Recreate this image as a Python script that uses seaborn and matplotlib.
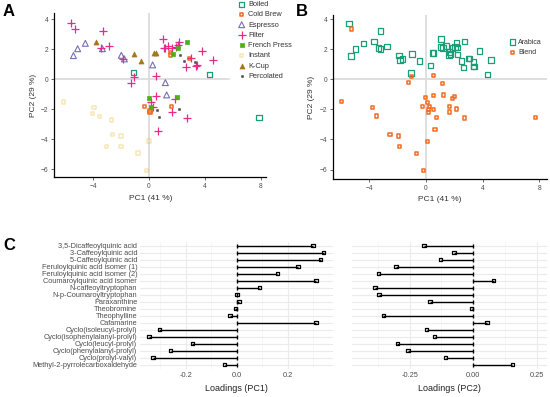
import numpy as np
import pandas as pd
import seaborn as sns
import matplotlib.pyplot as plt

sns.set_style("white")
plt.rcParams["font.family"] = ["Liberation Sans", "DejaVu Sans"]

# ---- Panel A: PCA scores by brewing method ----
boiled_x = [-1.14, 4.33, 7.86]
boiled_y = [0.44, 0.31, -2.56]
coldbrew_x = [1.52, 1.52, 2.90, -0.31, 0.07, 0.07, 1.62]
coldbrew_y = [1.78, 1.62, 1.38, -1.82, -2.11, -2.24, -1.82]
espresso_x = [-5.40, -5.10, -4.55, -3.33, -1.98, -1.76, 0.26, 1.17, 1.26]
espresso_y = [1.58, 2.04, 2.40, 2.04, 1.60, 1.36, 0.96, -0.22, -1.04]
filter_x = [-5.57, -5.29, -3.31, -3.43, -2.83, -1.86, 1.00, 1.05, 1.17, 1.33,
            1.67, 1.90, 2.10, 2.14, 2.64, 3.02, 3.36, 3.40, 3.76, 4.55,
            -1.07, -1.26, 0.52, 0.48, 0.12, 0.26, 1.86, 1.67, 2.74, 0.67]
filter_y = [3.73, 3.36, 3.22, 2.11, 2.20, 1.33, 2.71, 2.11, 2.07, 2.20,
            2.09, 2.18, 2.31, 2.49, 0.80, 1.44, 0.89, 0.93, 1.91, 1.29,
            0.13, -0.22, 0.20, -1.13, -1.53, -1.87, -1.33, -2.16, -2.58, -3.42]
frenchpress_x = [2.69, 2.10, 1.69, -0.02, 0.12, 2.00]
frenchpress_y = [2.49, 2.09, 1.71, -1.24, -1.87, -1.18]
instant_x = [-6.14, -3.93, -4.07, -3.57, -2.71, -2.64, -2.00, -3.07, -2.00,
             -0.79, 0.00, -0.21]
instant_y = [-1.51, -1.85, -2.25, -2.45, -2.71, -3.65, -3.78, -4.45, -4.45,
             -4.91, -4.11, -6.05]
kcup_x = [-3.79, -1.07, -0.55, 0.38, 0.48]
kcup_y = [2.51, 1.69, 1.22, 1.78, 1.78]
percolated_x = [2.21, 2.48, 3.31, 0.55, 0.74, 2.17]
percolated_y = [1.62, 1.22, 1.13, -2.04, -2.53, -1.98]

# ---- Panel B: PCA scores by bean type ----
arabica_x = [-5.44, -5.29, -4.96, -4.42, -3.67, -3.34, -3.22, -3.22, -2.73,
             -1.91, -1.84, -1.67, -0.99, -0.47, -1.06, 0.31, 0.45, 0.52, 1.06,
             1.06, 1.22, 1.41, 1.65, 1.62, 1.74, 1.88, 2.05, 2.16, 2.19, 2.24,
             2.73, 2.52, 2.66, 3.01, 3.06, 3.34, 3.34, 3.39, 3.79, 4.35, 4.59]
arabica_y = [3.72, 1.54, 2.03, 2.38, 2.51, 2.07, 2.02, 3.20, 2.18,
             1.60, 1.27, 1.36, 1.67, 1.21, 0.43, 0.92, 1.74, 1.74, 2.70,
             2.14, 2.09, 2.21, 1.83, 1.63, 1.70, 2.09, 2.16, 2.40, 2.11, 1.64,
             2.51, 1.23, 0.80, 1.38, 1.38, 1.14, 0.85, 0.85, 1.89, 0.32, 1.30]
blend_x = [-5.24, -5.98, -3.76, -3.48, -2.54, -1.95, -1.88, -0.66, -0.16, 0.12,
           -1.04, -1.25, 0.52, 1.15, -0.05, 0.52, 1.25, 0.14, -0.23, 0.26,
           0.16, 0.16, 0.56, 0.75, 1.88, 2.00, 1.67, 1.67, 2.17, 2.71, 0.64,
           7.76]
blend_y = [3.35, -1.48, -1.86, -2.44, -3.66, -3.77, -4.45, -4.92, -6.05, -4.12,
           0.18, -0.22, 0.25, -0.26, -1.22, -1.10, -1.04, -1.53, -1.80, -1.82,
           -1.99, -2.19, -2.01, -2.52, -1.30, -1.15, -1.79, -2.17, -1.97, -2.57,
           -3.32, -2.55]

# ---- Panel C: loadings ----
compounds = ["3,5-Dicaffeoylquinic acid", "3-Caffeoylquinic acid",
             "5-Caffeoylquinic acid", "Feruloylquinic acid isomer (1)",
             "Feruloylquinic acid isomer (2)", "Coumaroylquinic acid isomer",
             "N-caffeoyltryptophan", "N-p-Coumaroyltryptophan", "Paraxanthine",
             "Theobromine", "Theophylline", "Cafamarine",
             "Cyclo(isoleucyl-prolyl)", "Cyclo(isophenylalanyl-prolyl)",
             "Cyclo(leucyl-prolyl)", "Cyclo(phenylalanyl-prolyl)",
             "Cyclo(prolyl-valyl)", "Methyl-2-pyrrolecarboxaldehyde"]
load_pc1 = [0.300, 0.341, 0.329, 0.240, 0.160, 0.311, 0.089, 0.001, 0.009,
            -0.005, -0.026, 0.311, -0.303, -0.343, -0.174, -0.259, -0.328, -0.047]
load_pc2 = [-0.193, -0.076, -0.128, -0.303, -0.371, 0.080, -0.385, -0.370,
            -0.170, -0.006, -0.353, 0.054, -0.183, -0.151, -0.298, -0.256,
            -0.108, 0.153]

W, H = 550, 397
fig = plt.figure(figsize=(5.5, 3.97), dpi=100)


def box(l, t, r, b):
    return [l / W, 1 - b / H, (r - l) / W, (b - t) / H]


tick_col = "#4d4d4d"
ref_col = "#dcdcdc"


def style_scatter(ax, xlim, ylim):
    ax.set_xlim(*xlim)
    ax.set_ylim(*ylim)
    ax.set_xticks([-4, 0, 4, 8])
    ax.set_yticks([-6, -4, -2, 0, 2, 4])
    for s in ["top", "right"]:
        ax.spines[s].set_visible(False)
    for s in ["left", "bottom"]:
        ax.spines[s].set_color("black")
        ax.spines[s].set_linewidth(0.9)
    ax.tick_params(axis="both", length=2, width=0.6, color=tick_col,
                   labelsize=4.8, labelcolor=tick_col, pad=2, bottom=True, left=True)
    ax.set_xlabel("PC1 (41 %)", fontsize=6, color="#333333", labelpad=3)
    ax.set_ylabel("PC2 (29 %)", fontsize=6, color="#333333", labelpad=3)
    ax.axvline(0, color=ref_col, lw=1.3, zorder=0)


# Panel A
axA = fig.add_axes(box(54, 13, 266, 177))
methods = [
    ("Boiled", boiled_x, boiled_y, "s", "#1b9e77", 13, True, 0.9, 1),
    ("Cold Brew", coldbrew_x, coldbrew_y, "s", "#f26a1f", 5, True, 1.1, 1),
    ("Espresso", espresso_x, espresso_y, "^", "#7570b3", 18, True, 0.8, 1),
    ("Filter", filter_x, filter_y, "+", "#e7298a", 26, False, 0.9, 1),
    ("French Press", frenchpress_x, frenchpress_y, "s", "#4daf1a", 9, False, 0.5, 1),
    ("Instant", instant_x, instant_y, "s", "#e6ab02", 5, True, 1.1, 0.3),
    ("K-Cup", kcup_x, kcup_y, "^", "#a6761d", 13, False, 0.5, 1),
    ("Percolated", percolated_x, percolated_y, "o", "#555555", 3, False, 0.4, 1),
]
for name, xs, ys, mk, col, sz, hollow, lw, al in methods:
    sns.scatterplot(x=xs, y=ys, ax=axA, marker=mk, color=col, s=sz,
                    linewidth=lw, alpha=al, label=name, zorder=3)
    coll = axA.collections[-1]
    if hollow:
        coll.set_facecolor("none")
        coll.set_edgecolor(col)
    elif mk != "+":
        coll.set_edgecolor(col)
style_scatter(axA, (-6.79, 8.36), (-6.51, 4.42))
axA.axhline(0, xmax=0.824, color=ref_col, lw=1.3, zorder=0)
axA.xaxis.set_label_coords(0.455, -0.11)
legA = axA.legend(loc="upper left", bbox_to_anchor=(238 / W, 1 - 1 / H),
                  bbox_transform=fig.transFigure, frameon=False, fontsize=5.3,
                  labelspacing=0.42, handlelength=1.0, handletextpad=0.35,
                  borderaxespad=0, borderpad=0)
for t in legA.get_texts():
    t.set_color("#333333")

# Panel B
axB = fig.add_axes(box(332.7, 15, 547, 179))
sns.scatterplot(x=arabica_x, y=arabica_y, ax=axB, marker="s", color="#1b9e77",
                s=16, linewidth=0.9, label="Arabica", zorder=3)
axB.collections[-1].set_facecolor("none")
axB.collections[-1].set_edgecolor("#1b9e77")
sns.scatterplot(x=blend_x, y=blend_y, ax=axB, marker="s", color="#f26a1f",
                s=5, linewidth=1.1, label="Blend", zorder=3)
axB.collections[-1].set_facecolor("none")
axB.collections[-1].set_edgecolor("#f26a1f")
style_scatter(axB, (-6.58, 8.54), (-6.63, 4.28))
axB.axhline(0, color=ref_col, lw=1.3, zorder=0)
legB = axB.legend(loc="upper left", bbox_to_anchor=(509 / W, 1 - 39 / H),
                  bbox_transform=fig.transFigure, frameon=False, fontsize=5.0,
                  labelspacing=0.5, handlelength=1.0, handletextpad=0.3,
                  borderaxespad=0, borderpad=0)
for t in legB.get_texts():
    t.set_color("#333333")

# Panel C
rows = np.arange(len(compounds))


def loadings(ax, vals, xlim, major, minor, fmt, label, show_names):
    df = pd.DataFrame({"compound": compounds, "value": vals, "row": rows})
    ax.set_xlim(*xlim)
    ax.set_ylim(len(compounds) - 0.4, -0.6)
    ax.set_xticks(major)
    ax.set_xticks(minor, minor=True)
    ax.set_xticklabels([fmt.format(v) for v in major])
    ax.set_yticks(rows)
    ax.set_yticklabels(compounds if show_names else [])
    ax.grid(True, which="major", color="#ebebeb", lw=0.8)
    ax.grid(True, which="minor", axis="x", color="#f3f3f3", lw=0.5)
    ax.set_axisbelow(True)
    for s in ax.spines.values():
        s.set_visible(False)
    ax.tick_params(axis="both", length=0, labelsize=5.3, labelcolor=tick_col, pad=2)
    ax.hlines(df["row"], 0, df["value"], color="black", lw=1.0, zorder=2)
    ax.vlines(np.zeros(len(df)), df["row"] - 0.3, df["row"] + 0.3,
              color="black", lw=1.0, zorder=2)
    sns.scatterplot(data=df, x="value", y="row", ax=ax, marker="s", s=6,
                    color="black", linewidth=0.9, zorder=3, legend=False)
    ax.collections[-1].set_facecolor("none")
    ax.collections[-1].set_edgecolor("black")
    ax.set_ylabel("")
    ax.set_xlabel(label, fontsize=6.5, color="#222222", labelpad=4)


axC1 = fig.add_axes(box(140, 241.5, 333, 368.9))
loadings(axC1, load_pc1, (-0.379, 0.378), [-0.2, 0.0, 0.2], [-0.3, -0.1, 0.1, 0.3],
         "{:.1f}", "Loadings (PC1)", True)
axC2 = fig.add_axes(box(351.7, 241.5, 546.7, 368.9))
loadings(axC2, load_pc2, (-0.477, 0.288), [-0.25, 0.0, 0.25], [-0.375, -0.125, 0.125],
         "{:.2f}", "Loadings (PC2)", False)

for letter, px, py in [("A", 3, 12), ("B", 296, 12), ("C", 3, 245)]:
    fig.text(px / W, 1 - py / H, letter, fontsize=12, fontweight="bold",
             va="center", ha="left", color="black")

fig.savefig("out.png", dpi=100)
